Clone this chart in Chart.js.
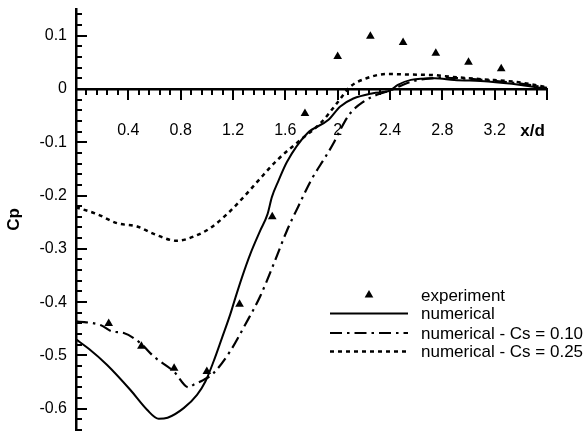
<!DOCTYPE html>
<html>
<head>
<meta charset="utf-8">
<script src="https://cdn.jsdelivr.net/npm/chart.js@4.4.1/dist/chart.umd.min.js"></script>
<style>
  html, body { margin: 0; padding: 0; background: #fff; }
  #wrap { width: 588px; height: 435px; position: relative; }
</style>
</head>
<body>
<div id="wrap"><canvas id="c" width="588" height="435"></canvas></div>
<script>
// ---- data ----
const expX  = [0.25, 0.5, 0.75, 1.0, 1.25, 1.5, 1.75, 2.0, 2.25, 2.5, 2.75, 3.0, 3.25];
const expCp = [-0.44, -0.483, -0.524, -0.53, -0.404, -0.240, -0.046, 0.061, 0.099, 0.087, 0.067, 0.050, 0.038];

const numX  = [0, 0.10, 0.238, 0.416, 0.543, 0.632, 0.70, 0.823, 0.925, 0.989, 1.052, 1.116, 1.179, 1.218, 1.268, 1.332, 1.408, 1.464, 1.497, 1.548, 1.612, 1.765, 1.93, 2.02, 2.12, 2.27, 2.40, 2.46, 2.56, 2.74, 2.89, 3.15, 3.40, 3.60];
const numCp = [-0.470, -0.488, -0.518, -0.565, -0.602, -0.619, -0.617, -0.599, -0.574, -0.549, -0.511, -0.467, -0.423, -0.392, -0.354, -0.310, -0.266, -0.235, -0.203, -0.172, -0.137, -0.084, -0.058, -0.033, -0.018, -0.008, -0.003, 0.0075, 0.017, 0.020, 0.017, 0.014, 0.0075, 0.0];

const cs10X  = [0, 0.187, 0.276, 0.365, 0.492, 0.594, 0.747, 0.861, 0.899, 0.976, 1.052, 1.179, 1.294, 1.408, 1.51, 1.612, 1.70, 1.80, 1.905, 1.968, 2.019, 2.095, 2.197, 2.299, 2.40, 2.5, 2.6, 2.8, 3.0, 3.2, 3.4, 3.6];
const cs10Cp = [-0.436, -0.443, -0.455, -0.458, -0.477, -0.502, -0.530, -0.560, -0.555, -0.546, -0.533, -0.492, -0.442, -0.389, -0.329, -0.266, -0.220, -0.170, -0.128, -0.102, -0.077, -0.046, -0.024, -0.011, -0.003, 0.008, 0.016, 0.021, 0.019, 0.015, 0.010, 0.002];

const cs25X  = [0, 0.162, 0.315, 0.467, 0.594, 0.772, 0.9, 1.027, 1.154, 1.281, 1.383, 1.536, 1.714, 1.866, 1.994, 2.095, 2.22, 2.375, 2.55, 2.73, 2.86, 3.11, 3.37, 3.6];
const cs25Cp = [-0.222, -0.235, -0.252, -0.258, -0.272, -0.285, -0.277, -0.261, -0.235, -0.203, -0.175, -0.134, -0.096, -0.065, -0.027, 0.004, 0.020, 0.028, 0.027, 0.026, 0.023, 0.018, 0.013, 0.003];

const seriesLabels = ['experiment', 'numerical', 'numerical - Cs = 0.10', 'numerical - Cs = 0.25'];

const xTickValues = [0.4, 0.8, 1.2, 1.6, 2.0, 2.4, 2.8, 3.2];
const xTickLabels = ['0.4', '0.8', '1.2', '1.6', '2', '2.4', '2.8', '3.2'];
const yTickValues = [0.1, 0, -0.1, -0.2, -0.3, -0.4, -0.5, -0.6];
const yTickLabels = ['0.1', '0', '-0.1', '-0.2', '-0.3', '-0.4', '-0.5', '-0.6'];
const xTitle = 'x/d';
const yTitle = 'Cp';

// ---- chart ----
const FONT = "'Liberation Sans', Arial, Helvetica, sans-serif";
Chart.defaults.font.family = FONT;
Chart.defaults.color = '#000';

const pts = (xs, ys) => xs.map((x, i) => ({ x: x, y: ys[i] }));
const X_TITLE_POS = 3.49;

const tickMarks = {
  id: 'tickMarks',
  afterDraw(chart) {
    const { ctx, chartArea, scales } = chart;
    const xs = scales.x, ys = scales.y;
    const axisY = ys.getPixelForValue(0);
    const axisX = chartArea.left;
    ctx.save();
    ctx.strokeStyle = '#000';
    ctx.lineWidth = 2;
    ctx.beginPath();
    for (let k = 1; k <= 45; k++) {
      const v = k * 0.08;
      const major = k % 5 === 0;
      const px = Math.round(xs.getPixelForValue(v));
      ctx.moveTo(px, axisY);
      ctx.lineTo(px, axisY + (major ? 11 : 6));
    }
    for (let k = -32; k <= 7; k++) {
      const v = k * 0.02;
      const major = k % 5 === 0;
      const py = Math.round(ys.getPixelForValue(v));
      ctx.moveTo(axisX, py);
      ctx.lineTo(axisX + (major ? 11 : 6), py);
    }
    ctx.stroke();
    ctx.restore();
  }
};

const legendBox = {
  id: 'legendBox',
  afterDraw(chart, args, opts) {
    const { ctx } = chart;
    const ds = chart.data.datasets;
    ctx.save();
    ctx.font = opts.font;
    ctx.fillStyle = '#000';
    ctx.textBaseline = 'middle';
    ctx.textAlign = 'left';
    opts.rows.forEach((ry, i) => {
      const d = ds[i];
      if (i === 0) {
        const cx = (opts.x0 + opts.x1) / 2, r = 5;
        ctx.beginPath();
        ctx.moveTo(cx, ry - r);
        ctx.lineTo(cx + 0.866 * r, ry + 0.5 * r);
        ctx.lineTo(cx - 0.866 * r, ry + 0.5 * r);
        ctx.closePath();
        ctx.fill();
      } else {
        ctx.beginPath();
        ctx.strokeStyle = d.borderColor;
        ctx.lineWidth = d.borderWidth;
        ctx.setLineDash(d.borderDash || []);
        ctx.moveTo(opts.x0, ry);
        ctx.lineTo(opts.x1, ry);
        ctx.stroke();
        ctx.setLineDash([]);
      }
      ctx.fillText(d.label, opts.textX, ry + 1);
    });
    ctx.restore();
  }
};

new Chart(document.getElementById('c'), {
  type: 'scatter',
  data: {
    datasets: [
      { label: seriesLabels[0], data: pts(expX, expCp), pointStyle: 'triangle', pointRadius: 5,
        backgroundColor: '#000', borderColor: '#000', borderWidth: 0, showLine: false },
      { label: seriesLabels[1], data: pts(numX, numCp), showLine: true, pointRadius: 0,
        borderColor: '#000', borderWidth: 2, cubicInterpolationMode: 'monotone', fill: false },
      { label: seriesLabels[2], data: pts(cs10X, cs10Cp), showLine: true, pointRadius: 0,
        borderColor: '#000', borderWidth: 2.2, borderDash: [12, 5, 2.5, 5], cubicInterpolationMode: 'monotone', fill: false },
      { label: seriesLabels[3], data: pts(cs25X, cs25Cp), showLine: true, pointRadius: 0,
        borderColor: '#000', borderWidth: 2.5, borderDash: [4, 4], cubicInterpolationMode: 'monotone', fill: false }
    ]
  },
  options: {
    responsive: false,
    animation: false,
    clip: false,
    layout: { padding: { top: 9, right: 41, bottom: 0, left: 0 } },
    plugins: {
      legend: { display: false },
      tooltip: { enabled: false },
      legendBox: {
        rows: [295, 313.5, 333, 351.5],
        x0: 330, x1: 408, textX: 421,
        font: "17px " + FONT
      }
    },
    scales: {
      y: {
        type: 'linear',
        position: 'left',
        min: -0.64, max: 0.15,
        afterFit(scale) { scale.width = 76; scale.paddingTop = 0; scale.paddingBottom = 0; },
        afterBuildTicks(scale) { scale.ticks = yTickValues.map(v => ({ value: v })); },
        ticks: {
          padding: 9,
          font: { size: 16 },
          color: '#000',
          callback: (v) => { const i = yTickValues.findIndex(t => Math.abs(t - v) < 1e-9); return i >= 0 ? yTickLabels[i] : ''; }
        },
        grid: { display: false, drawTicks: false },
        border: { display: true, color: '#000', width: 2.5 },
        title: { display: true, text: yTitle, font: { size: 17, weight: 'bold' }, color: '#000', padding: { top: 4, bottom: 0 } }
      },
      x: {
        type: 'linear',
        position: { y: 0 },
        min: 0, max: 3.6,
        afterFit(scale) { scale.height = 0; scale.paddingLeft = 0; scale.paddingRight = 0; },
        afterBuildTicks(scale) { scale.ticks = xTickValues.concat([X_TITLE_POS]).map(v => ({ value: v })); },
        ticks: {
          padding: 32,
          maxRotation: 0,
          autoSkip: false,
          color: '#000',
          font: (ctx) => (ctx.tick && Math.abs(ctx.tick.value - X_TITLE_POS) < 1e-9) ? { size: 17, weight: 'bold' } : { size: 16 },
          callback: (v) => {
            if (Math.abs(v - X_TITLE_POS) < 1e-9) return xTitle;
            const i = xTickValues.findIndex(t => Math.abs(t - v) < 1e-9);
            return i >= 0 ? xTickLabels[i] : '';
          }
        },
        grid: { display: false, drawTicks: false },
        border: { display: true, color: '#000', width: 2.5 }
      }
    }
  },
  plugins: [tickMarks, legendBox]
});
</script>
</body>
</html>
